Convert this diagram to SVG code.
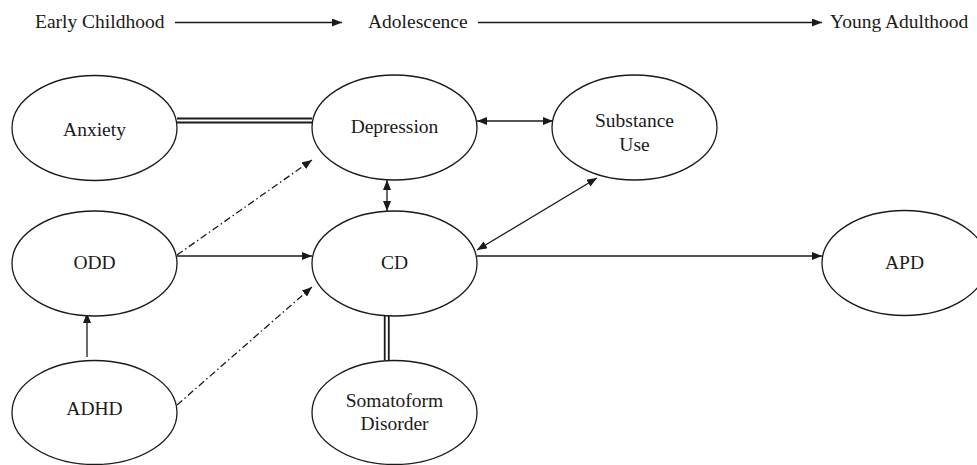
<svg xmlns="http://www.w3.org/2000/svg" width="977" height="465" viewBox="0 0 977 465">
<style>
text{font-family:"Liberation Serif","Times New Roman",serif;font-size:19.5px;fill:#1a1a1a}
.n text{text-anchor:middle}
ellipse{fill:#fff;stroke:#1a1a1a;stroke-width:1.3}
.c line{stroke:#1a1a1a;stroke-width:1.3;fill:none}
.c line.dbl{stroke-width:1.8}
.dd{stroke-dasharray:7 3 1.5 3}
</style>
<defs>
<marker id="ah" viewBox="0 0 10 8" refX="10" refY="4" markerWidth="10" markerHeight="8" markerUnits="userSpaceOnUse" orient="auto-start-reverse">
<path d="M0,0 L10,4 L0,8 z" fill="#1a1a1a"/>
</marker>
</defs>
<rect width="977" height="465" fill="#fff"/>
<g id="timeline">
<text x="35" y="28">Early Childhood</text>
<text x="368" y="28">Adolescence</text>
<text x="830" y="28">Young Adulthood</text>
<line x1="175" y1="22.5" x2="342" y2="22.5" stroke="#1a1a1a" stroke-width="1.3" marker-end="url(#ah)"/>
<line x1="478" y1="22.5" x2="822" y2="22.5" stroke="#1a1a1a" stroke-width="1.3" marker-end="url(#ah)"/>
</g>
<g class="c" id="connectors">
<line class="dbl" x1="177" y1="118.5" x2="312" y2="118.5"/>
<line class="dbl" x1="177" y1="122.5" x2="312" y2="122.5"/>
<line x1="477" y1="121" x2="553" y2="121" marker-start="url(#ah)" marker-end="url(#ah)"/>
<line x1="387" y1="180" x2="387" y2="211" marker-start="url(#ah)" marker-end="url(#ah)"/>
<line x1="477" y1="250" x2="597" y2="178" marker-start="url(#ah)" marker-end="url(#ah)"/>
<line x1="477" y1="256" x2="822" y2="256" marker-end="url(#ah)"/>
<line x1="177" y1="256" x2="312" y2="256" marker-end="url(#ah)"/>
<line class="dd" x1="177" y1="255" x2="312" y2="160" marker-end="url(#ah)"/>
<line class="dd" x1="177" y1="405" x2="312" y2="287" marker-end="url(#ah)"/>
<line x1="87" y1="357" x2="87" y2="313" marker-end="url(#ah)"/>
<line class="dbl" x1="384.7" y1="316" x2="384.7" y2="360"/>
<line class="dbl" x1="388.8" y1="316" x2="388.8" y2="360"/>
</g>
<g class="n" id="anxiety"><ellipse cx="94.5" cy="128" rx="82.5" ry="52.5"/><text x="94.5" y="136">Anxiety</text></g>
<g class="n" id="depression"><ellipse cx="394.5" cy="127.5" rx="82.5" ry="52.5"/><text x="394.5" y="133">Depression</text></g>
<g class="n" id="substance"><ellipse cx="634.5" cy="127.5" rx="82.5" ry="52.5"/><text x="634.5" y="127">Substance</text><text x="634.5" y="151">Use</text></g>
<g class="n" id="odd"><ellipse cx="94.5" cy="263.5" rx="82.5" ry="52.5"/><text x="94.5" y="269">ODD</text></g>
<g class="n" id="cd"><ellipse cx="394.5" cy="263.5" rx="82.5" ry="52.5"/><text x="394.5" y="269">CD</text></g>
<g class="n" id="apd"><ellipse cx="904.5" cy="263" rx="82.5" ry="52.5"/><text x="904.5" y="269">APD</text></g>
<g class="n" id="adhd"><ellipse cx="94.5" cy="412.5" rx="82.5" ry="52"/><text x="94.5" y="415">ADHD</text></g>
<g class="n" id="somatoform"><ellipse cx="394.5" cy="412.5" rx="82.5" ry="52"/><text x="394.5" y="407">Somatoform</text><text x="394.5" y="430">Disorder</text></g>
</svg>
